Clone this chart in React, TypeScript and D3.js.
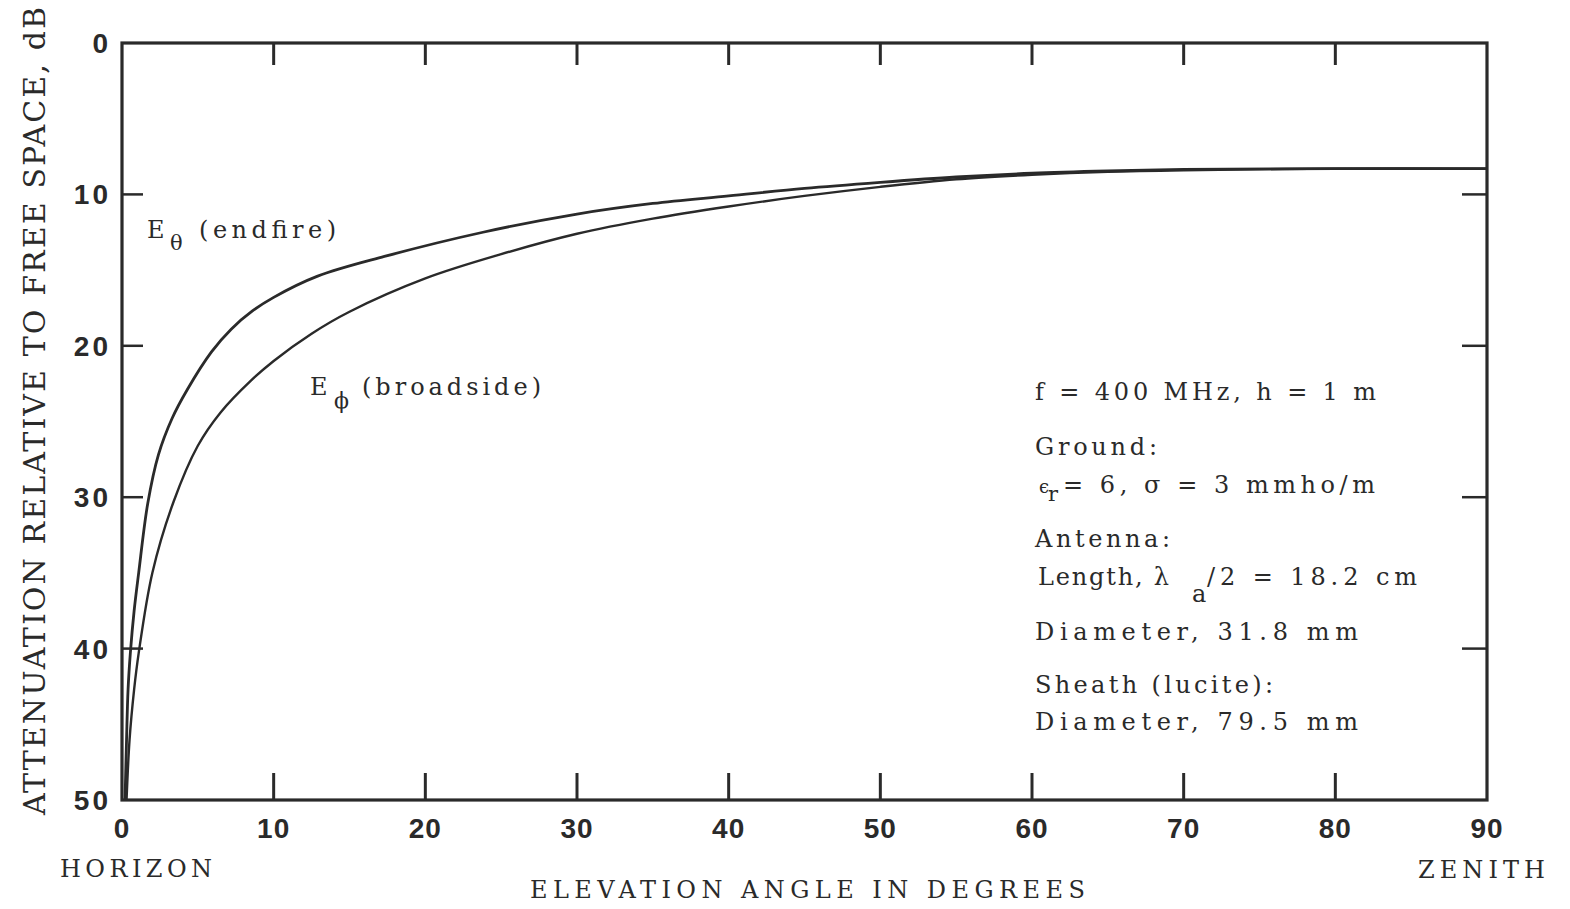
import React from "react";
import * as d3 from "d3";

// elevation angle (deg) and attenuation (dB)
const thetaAngle = [0.2, 0.3, 0.4, 0.55, 0.8, 1.1, 1.7, 2.4, 3.3, 4.3, 5.9, 7.2, 8.6, 10, 12.9, 17.3, 23.8, 30, 35, 40, 45, 50, 55, 60, 65, 70, 80, 90];
const thetaAtten = [50, 46, 42.7, 40.3, 37.5, 35.0, 30.4, 27.2, 24.8, 22.9, 20.4, 18.9, 17.7, 16.8, 15.4, 14.1, 12.5, 11.3, 10.6, 10.1, 9.6, 9.2, 8.85, 8.6, 8.45, 8.35, 8.3, 8.3];

const phiAngle = [0.3, 0.5, 0.8, 1.1, 2.0, 3.4, 5.0, 6.5, 8.5, 10, 12.5, 15, 20, 25, 30, 35, 40, 45, 50, 55, 60, 65, 70, 80, 90];
const phiAtten = [50, 46, 42.7, 40.3, 35.0, 30.3, 26.6, 24.4, 22.3, 21.0, 19.2, 17.75, 15.55, 13.95, 12.6, 11.6, 10.8, 10.1, 9.5, 9.0, 8.7, 8.5, 8.4, 8.3, 8.3];

const xTicks = [0, 10, 20, 30, 40, 50, 60, 70, 80, 90];
const yTicks = [0, 10, 20, 30, 40, 50];

const W = 1570;
const H = 909;
const plot = { left: 122, right: 1487, top: 43, bottom: 800 };

const ink = "#2a2a2a";
const serif = "'DejaVu Serif', 'Liberation Serif', serif";
const bold = "'Liberation Sans', Arial, sans-serif";

export default function App() {
  const x = d3.scaleLinear().domain([0, 90]).range([plot.left, plot.right]);
  const y = d3.scaleLinear().domain([0, 50]).range([plot.top, plot.bottom]);

  const path = (xs: number[], ys: number[]) =>
    d3
      .line<[number, number]>()
      .x((d) => x(d[0]))
      .y((d) => y(d[1]))
      .curve(d3.curveCatmullRom.alpha(0.5))(xs.map((v, i) => [v, ys[i]]));

  const inner = xTicks.slice(1, -1);
  const innerY = yTicks.slice(1, -1);

  return (
    <svg
      width={W}
      height={H}
      style={{ position: "absolute", left: 0, top: 0, background: "#fff" }}
    >
      {/* frame */}
      <rect
        x={plot.left}
        y={plot.top}
        width={plot.right - plot.left}
        height={plot.bottom - plot.top}
        fill="none"
        stroke={ink}
        strokeWidth={3.2}
      />
      {/* ticks */}
      {inner.map((t) => (
        <g key={"xt" + t} stroke={ink} strokeWidth={3}>
          <line x1={x(t)} x2={x(t)} y1={plot.top} y2={plot.top + 22} />
          <line x1={x(t)} x2={x(t)} y1={plot.bottom} y2={plot.bottom - 27} />
        </g>
      ))}
      {innerY.map((t) => (
        <g key={"yt" + t} stroke={ink} strokeWidth={2.5}>
          <line x1={plot.left} x2={plot.left + 21} y1={y(t)} y2={y(t)} />
          <line x1={plot.right} x2={plot.right - 25} y1={y(t)} y2={y(t)} />
        </g>
      ))}

      {/* curves */}
      <path d={path(thetaAngle, thetaAtten) || ""} fill="none" stroke={ink} strokeWidth={2.8} />
      <path d={path(phiAngle, phiAtten) || ""} fill="none" stroke={ink} strokeWidth={2.4} />

      {/* tick labels */}
      {xTicks.map((t) => (
        <text
          key={"xl" + t}
          x={x(t)}
          y={838}
          textAnchor="middle"
          fontFamily={bold}
          fontWeight="bold"
          fontSize={28}
          letterSpacing={1}
          fill={ink}
        >
          {t}
        </text>
      ))}
      {yTicks.map((t) => (
        <text
          key={"yl" + t}
          x={111}
          y={y(t) + 10}
          textAnchor="end"
          fontFamily={bold}
          fontWeight="bold"
          fontSize={28}
          letterSpacing={3}
          fill={ink}
        >
          {t}
        </text>
      ))}

      {/* axis titles */}
      <text
        transform="translate(45,815) rotate(-90)"
        fontFamily={serif}
        fontSize={30}
        textLength={808}
        lengthAdjust="spacing"
        fill={ink}
      >
        ATTENUATION RELATIVE TO FREE SPACE, dB
      </text>
      <text x={530} y={898} fontFamily={serif} fontSize={24} textLength={555} lengthAdjust="spacing" fill={ink}>
        ELEVATION ANGLE IN DEGREES
      </text>
      <text x={60} y={877} fontFamily={serif} fontSize={24} textLength={152} lengthAdjust="spacing" fill={ink}>
        HORIZON
      </text>
      <text x={1418} y={878} fontFamily={serif} fontSize={24} textLength={127} lengthAdjust="spacing" fill={ink}>
        ZENITH
      </text>

      {/* curve labels */}
      <g fontFamily={serif} fill={ink}>
        <text x={147} y={238} fontSize={24}>E</text>
        <text x={170} y={250} fontSize={21}>θ</text>
        <text x={199} y={238} fontSize={24} textLength={137} lengthAdjust="spacing">(endfire)</text>

        <text x={310} y={395} fontSize={24}>E</text>
        <text x={334} y={408} fontSize={22}>ϕ</text>
        <text x={362} y={395} fontSize={24} textLength={179} lengthAdjust="spacing">(broadside)</text>
      </g>

      {/* parameters */}
      <g fontFamily={serif} fill={ink} fontSize={24}>
        <text x={1035} y={400} textLength={341} lengthAdjust="spacing">f = 400 MHz, h = 1 m</text>
        <text x={1035} y={455} textLength={122} lengthAdjust="spacing">Ground:</text>
        <text x={1039} y={493} fontSize={18}>ϵ</text>
        <text x={1048} y={501} fontSize={21}>r</text>
        <text x={1063} y={493} textLength={312} lengthAdjust="spacing">= 6,  σ = 3 mmho/m</text>
        <text x={1035} y={547} textLength={135} lengthAdjust="spacing">Antenna:</text>
        <text x={1038} y={585} textLength={131} lengthAdjust="spacing">Length, λ</text>
        <text x={1192} y={602}>a</text>
        <text x={1207} y={585} textLength={210} lengthAdjust="spacing">/2 = 18.2 cm</text>
        <text x={1035} y={640} textLength={323} lengthAdjust="spacing">Diameter, 31.8 mm</text>
        <text x={1035} y={693} textLength={238} lengthAdjust="spacing">Sheath (lucite):</text>
        <text x={1035} y={730} textLength={323} lengthAdjust="spacing">Diameter, 79.5 mm</text>
      </g>
    </svg>
  );
}
